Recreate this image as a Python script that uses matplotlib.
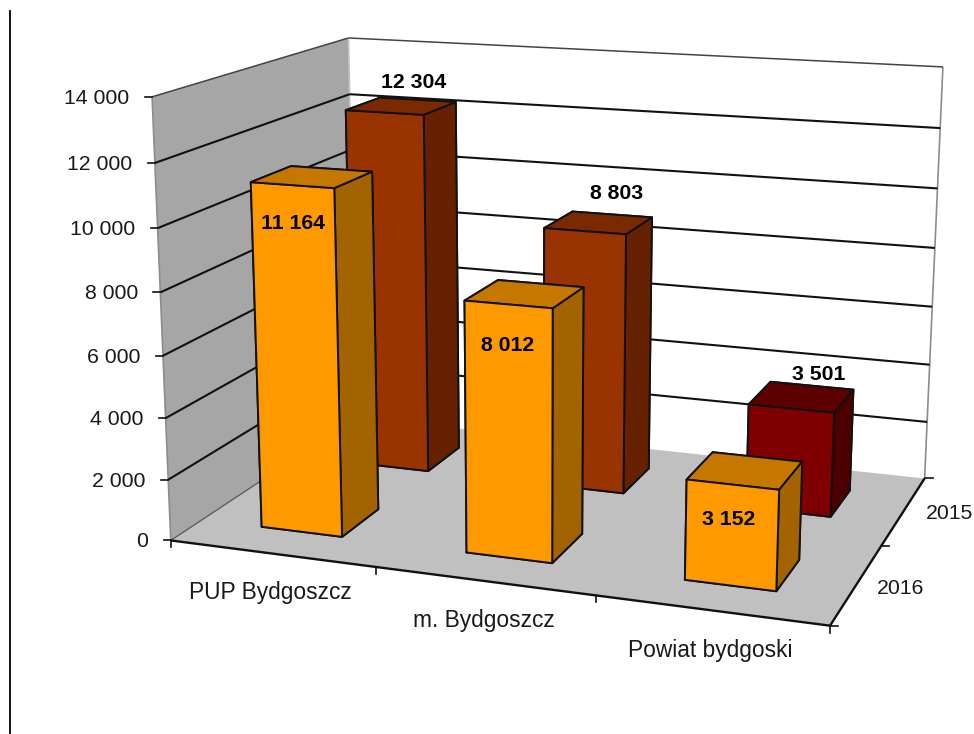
import numpy as np
import matplotlib
matplotlib.use("Agg")
import matplotlib.pyplot as plt
from matplotlib.lines import Line2D
from mpl_toolkits.mplot3d.art3d import Poly3DCollection, Line3DCollection

# Chart data
categories = ["PUP Bydgoszcz", "m. Bydgoszcz", "Powiat bydgoski"]
series_names = ["2016", "2015"]
values_2016 = [11164, 8012, 3152]
values_2015 = [12304, 8803, 3501]
z_ticks = [0, 2000, 4000, 6000, 8000, 10000, 12000, 14000]

plt.rcParams["font.family"] = ["Liberation Sans", "DejaVu Sans"]

W, H = 974, 734
Z_MAX = 14000
FONT = 15.3
FONT_CAT = 16.4
TEXT_COLOR = "#1a1a1a"
TEXT_DY = 1.5  # va="center" sits a little high for digits


def fmt(v):
    return f"{v:,}".replace(",", " ")


# Fit the camera of the old Excel 3-D chart from the corners of its box:
# (category, series, value) -> pixel position
corners = [
    ((0, 0, 0), (171.7, 539.3)),
    ((0, 0, 12000), (156, 163)),
    ((0, 0, 14000), (150, 97)),
    ((0, 2, 0), (355, 419)),
    ((0, 2, 12000), (350, 94)),
    ((0, 2, 14000), (349.5, 37.7)),
    ((3, 2, 0), (925, 477.3)),
    ((3, 2, 12000), (940, 128)),
    ((3, 2, 14000), (942.7, 67.3)),
    ((3, 0, 0), (830, 626.7)),
]
rows = []
for (x, y, z), (u, v) in corners:
    X = [x, y, z / Z_MAX, 1]
    rows.append(X + [0, 0, 0, 0] + [-u * c for c in X])
    rows.append([0, 0, 0, 0] + X + [-v * c for c in X])
P = np.linalg.svd(np.array(rows, dtype=float))[2][-1].reshape(3, 4)
P[:, 2] /= Z_MAX
P /= P[2] @ np.array([1.5, 1, 7000, 1])
# depth row of -1/w keeps the faces sorted by distance from the camera
M = np.array([P[0], P[1], [0, 0, 0, -1], P[2]])


def project(x, y, z):
    u, v, w = P @ np.array([x, y, z, 1.0])
    return u / w, v / w


fig = plt.figure(figsize=(W / 100, H / 100), dpi=100)
ax = fig.add_axes([0, 0, 1, 1], projection="3d", computed_zorder=False)
ax.set_axis_off()
ax.apply_aspect = lambda position=None: None
ax.get_proj = lambda: M


def lines3d(segments, color, lw, zorder=2):
    ax.add_collection3d(Line3DCollection(segments, colors=color, linewidths=lw, zorder=zorder))


# Walls and floor
ax.add_collection3d(Poly3DCollection(
    [[(0, 0, 0), (0, 2, 0), (0, 2, Z_MAX), (0, 0, Z_MAX)]],
    facecolors="#a6a6a6", edgecolors="none", zorder=1))
ax.add_collection3d(Poly3DCollection(
    [[(0, 2, 0), (3, 2, 0), (3, 2, Z_MAX), (0, 2, Z_MAX)]],
    facecolors="white", edgecolors="none", zorder=1))
ax.add_collection3d(Poly3DCollection(
    [[(0, 0, 0), (3, 0, 0), (3, 2, 0), (0, 2, 0)]],
    facecolors="#c0c0c0", edgecolors="none", zorder=1))

# Wall edges
lines3d([[(0, 0, 0), (0, 0, Z_MAX)], [(3, 2, 0), (3, 2, Z_MAX)]], "#8c8c8c", 1.2)
lines3d([[(0, 2, 0), (0, 2, Z_MAX)]], "#c4c4c4", 1.2)

# Gridlines
for z in z_ticks[1:]:
    grid_color = "#444444" if z == Z_MAX else "#111111"
    grid_lw = 1.1 if z == Z_MAX else 1.5
    lines3d([[(0, 0, z), (0, 2, z)], [(0, 2, z), (3, 2, z)]], grid_color, grid_lw)
lines3d([[(0, 0, 0), (0, 2, 0)]], "#555555", 0.9)

# Floor edges
lines3d([[(0, 0, 0), (3, 0, 0)], [(3, 0, 0), (3, 2, 0)]], "#111111", 1.7, 2.5)

# Bars: back row first, faces are -z, +z, -y, +y, -x, +x
orange = ["#a36300", "#c67700", "#ff9900", "#a36300", "#a36300", "#a36300"]
brown = ["#662200", "#7a2900", "#993300", "#662200", "#662200", "#662200"]
dark_red = ["#4d0000", "#5c0000", "#800000", "#4d0000", "#4d0000", "#4d0000"]
row_2015 = [brown, brown, dark_red]
BAR = 0.4
OFFSET = 0.3

order = 3
for i, val in enumerate(values_2015):
    ax.bar3d([i + OFFSET], [1 + OFFSET], [0], BAR, BAR, [val], color=row_2015[i],
             shade=False, edgecolor="#111111", linewidth=1.4, zorder=order)
    order += 1
for i, val in enumerate(values_2016):
    ax.bar3d([i + OFFSET], [OFFSET], [0], BAR, BAR, [val], color=orange,
             shade=False, edgecolor="#111111", linewidth=1.4, zorder=order)
    order += 1

# The 2-D limits of the axes are plain pixels of the picture
ax.viewLim.intervalx = (0, W)
ax.viewLim.intervaly = (H, 0)


def tick(x0, y0, x1, y1):
    ax.add_artist(Line2D([x0, x1], [y0, y1], color="#111111", lw=1.2, zorder=2.6))


# Value axis
for z in z_ticks:
    u, v = project(0, 0, z)
    tick(u - 7, v, u, v)
    ax.text2D(u - 22.5, v + TEXT_DY, fmt(z), transform=ax.transData, ha="right", va="center",
              fontsize=FONT, color=TEXT_COLOR)

# Category axis
for i in range(4):
    u, v = project(i, 0, 0)
    tick(u, v, u, v + 7)
category_pos = [(270.5, 592), (483.5, 620), (710, 651)]
for name, (u, v) in zip(categories, category_pos):
    ax.text2D(u, v, name, transform=ax.transData, ha="center", va="center",
              fontsize=FONT_CAT, color=TEXT_COLOR)

# Series axis
for j in range(3):
    u, v = project(3, j, 0)
    tick(u, v, u + 8, v)
series_pos = [(901, 587), (950, 512)]
for name, (u, v) in zip(series_names, series_pos):
    ax.text2D(u, v + TEXT_DY, name, transform=ax.transData, ha="center", va="center",
              fontsize=FONT, color=TEXT_COLOR)

# Data labels
label_pos_2016 = [(293, 222), (508, 344), (729, 518)]
label_pos_2015 = [(414, 81), (617, 192), (819, 373)]
for val, (u, v) in zip(values_2016 + values_2015, label_pos_2016 + label_pos_2015):
    ax.text2D(u, v + TEXT_DY, fmt(val), transform=ax.transData, ha="center", va="center",
              fontsize=FONT, fontweight="bold", color="black", zorder=20)

# Stray rule at the left of the picture
fig.add_artist(Line2D([10 / W, 10 / W], [0, 1 - 11 / H], color="black", lw=1.3))

fig.savefig("out.png", dpi=100)
